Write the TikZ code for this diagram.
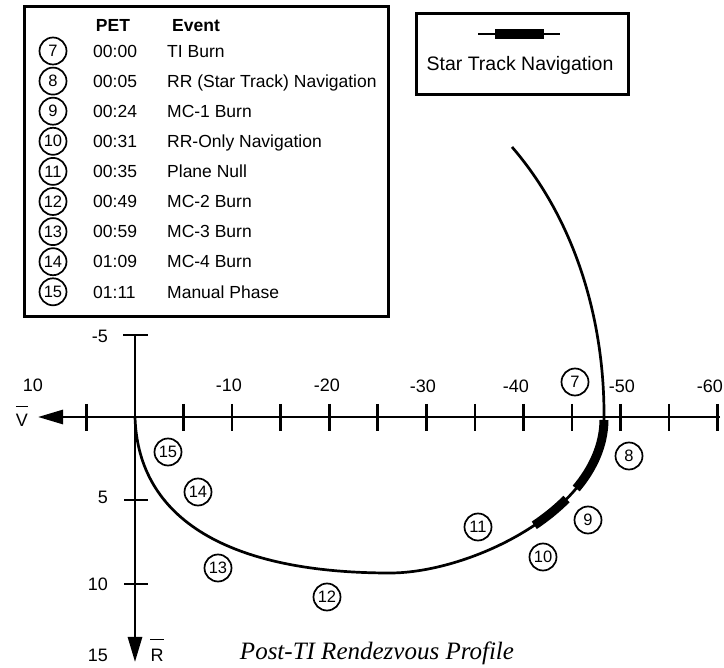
\documentclass[tikz,border=0pt]{standalone}
\usepackage{fontspec}
\setmainfont{Liberation Sans}
\newfontfamily\titlefont{Liberation Serif}
\usetikzlibrary{arrows.meta}

\begin{document}
\begin{tikzpicture}[x=1pt,y=-1pt,
  lbl/.style={font=\fontsize{17.5}{20}\selectfont, inner sep=0pt, text height=12.6pt, text depth=0pt},
  axlbl/.style={font=\fontsize{18}{20}\selectfont, inner sep=0pt, text height=12.9pt, text depth=0pt},
  hdr/.style={lbl, font=\fontsize{17.5}{20}\selectfont\bfseries},
  num/.style={circle, draw, line width=1.7pt, minimum size=27pt, inner sep=0pt,
              font=\fontsize{16.5}{17}\selectfont},
  frame/.style={draw, line width=2.6pt, inner sep=0pt},
  axis/.style={line width=2.8pt},
  tickmark/.style={line width=2.6pt},
  traj/.style={line width=2.7pt},
  startrack/.style={line width=9pt},
  bar/.style={line width=1.6pt},
  tip/.style={-{Triangle[length=25pt,width=14pt]}}
]
\useasboundingbox (0,0) rectangle (724,668);

% ---- event legend -------------------------------------------------------
\node[frame, minimum width=364pt, minimum height=310pt, anchor=north west] (legend) at (23,5) {};
\node[hdr] (hpet) at (113,25) {PET};
\node[hdr, anchor=west] (hevent) at (172,25) {Event};
\foreach \n/\t/\e [count=\i from 0] in {
    7/00:00/TI Burn,
    8/00:05/RR (Star Track) Navigation,
    9/00:24/MC-1 Burn,
    10/00:31/RR-Only Navigation,
    11/00:35/Plane Null,
    12/00:49/MC-2 Burn,
    13/00:59/MC-3 Burn,
    14/01:09/MC-4 Burn,
    15/01:11/Manual Phase}{
  \node[num] (k\n) at (53,{51+30.1*\i}) {\n};
  \node[lbl, anchor=west] (t\n) at (93,{51+30.1*\i}) {\t};
  \node[lbl, anchor=west] (e\n) at (167,{51+30.1*\i}) {\e};
}

% ---- line-style key -----------------------------------------------------
\node[frame, minimum width=212pt, minimum height=81pt, anchor=north west] (key) at (415,12) {};
\coordinate (ka) at (478,34);
\coordinate (kb) at (560,34);
\coordinate (kc) at (495,34);
\coordinate (kd) at (544,34);
\draw[traj] (ka) -- (kb);
\draw[startrack, line width=10pt] (kc) -- (kd);
\node[font=\fontsize{19.5}{22}\selectfont, inner sep=0pt] (keytext) at (520,65) {Star Track Navigation};

% ---- axes ---------------------------------------------------------------
\coordinate (O) at (135,417);
\coordinate (vend) at (720,417);
\coordinate (vtip) at (38,417);
\coordinate (rtop) at (135,335);
\coordinate (rtip) at (135,662);
\draw[axis, tip] (vend) -- (vtip);
\draw[axis, tip] (rtop) -- (rtip);
\draw[tickmark] (123,335) -- (148,335);
\foreach \y in {500,584}
  \draw[tickmark] (124,\y) -- (148,\y);
\foreach \k in {-1,1,2,3,4,5,6,7,8,9,10,11,12}
  \draw[tickmark] ({135+48.55*\k},404) -- ({135+48.55*\k},431);

% downrange labels
\node[axlbl] (x10)  at (33,385)  {10};
\node[axlbl] (xm10) at (229,385) {-10};
\node[axlbl] (xm20) at (327,385) {-20};
\node[axlbl] (xm30) at (423,386) {-30};
\node[axlbl] (xm40) at (516,386) {-40};
\node[axlbl] (xm50) at (622,386) {-50};
\node[axlbl] (xm60) at (710,386) {-60};
% radial labels
\node[axlbl] (ym5) at (100,336) {-5};
\node[axlbl] (y5)  at (103,497) {5};
\node[axlbl] (y10) at (98,584)  {10};
\node[axlbl] (y15) at (98,655)  {15};

% axis names with overbars
\node[axlbl] (vlab) at (22,420) {V};
\draw[bar] ([yshift=7pt]vlab.north west) -- ([yshift=7pt]vlab.north east);
\node[axlbl] (rlab) at (157,655) {R};
\draw[bar] ([yshift=9pt]rlab.north west) -- ([yshift=9pt]rlab.north east);

% ---- trajectory ---------------------------------------------------------
\coordinate (bot) at (390,573);
\coordinate (turn) at (604,420);
\coordinate (top) at (512,147);
\draw[traj] (O) .. controls (138,520) and (230,573) .. (bot)
               .. controls (470,573) and (603,510) .. (turn)
               .. controls (605,320) and (575,220) .. (top);

% star tracking arcs along the trajectory
\coordinate (sa) at (576.2,488.5);
\coordinate (sb) at (566.5,499);
\coordinate (sc) at (534.3,525.3);
\draw[startrack] (turn) .. controls (603.72,445.2) and (593.09,468.28) .. (sa);
\draw[startrack] (sc) .. controls (546.1,517.4) and (557.0,508.6) .. (sb);

% event markers
\node[num] (p7)  at (575,382) {7};
\node[num] (p8)  at (629,456) {8};
\node[num] (p9)  at (588,520) {9};
\node[num] (p10) at (543,557) {10};
\node[num] (p11) at (478,527) {11};
\node[num] (p12) at (327,597) {12};
\node[num] (p13) at (218,568) {13};
\node[num] (p14) at (198,492) {14};
\node[num] (p15) at (168,452) {15};

% ---- caption ------------------------------------------------------------
\node[font=\titlefont\itshape\fontsize{25}{28}\selectfont, inner sep=0pt] (title) at (377,653)
  {Post-TI Rendezvous Profile};
\end{tikzpicture}
\end{document}
